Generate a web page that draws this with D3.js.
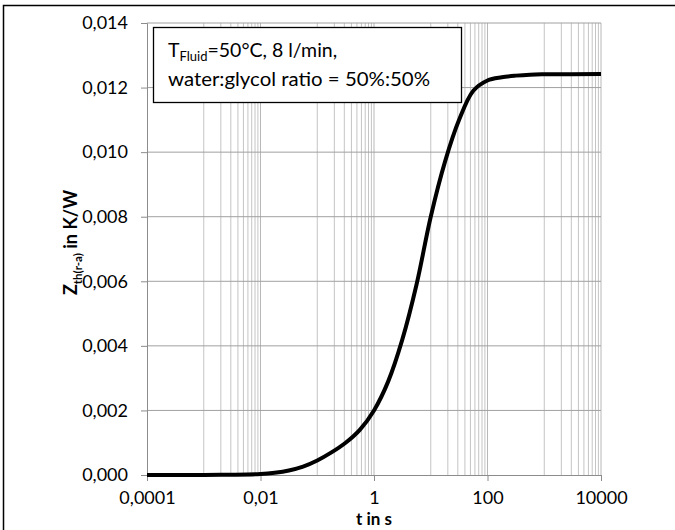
<!DOCTYPE html>
<html>
<head>
<meta charset="utf-8">
<script src="https://cdn.jsdelivr.net/npm/d3@7"></script>
<style>
  body { margin: 0; background: #fff; }
  text { font-family: Lato, "Open Sans", sans-serif; fill: #000; }
</style>
</head>
<body>
<div class="chart"></div>
<script>
// time in s, Zth in K/W
const times = [0.0001, 0.001, 0.003, 0.01, 0.0178, 0.0316, 0.0562, 0.1, 0.178, 0.316, 0.562, 1, 1.78, 3.16, 5.62, 10, 17.8, 31.6, 56.2, 100, 178, 316, 562, 1000, 10000]
const zth = [0, 0.000003, 0.000008, 0.00003, 0.00007, 0.00014, 0.00026, 0.00045, 0.0007, 0.001, 0.0014, 0.0020, 0.0029, 0.0042, 0.0059, 0.0080, 0.0097, 0.0110, 0.0119, 0.01222, 0.01232, 0.01237, 0.0124, 0.01241, 0.01242]

const xTicks = [0.0001, 0.01, 1, 100, 10000]
const xTickLabels = ["0,0001", "0,01", "1", "100", "10000"]
const yTicks = [0, 0.002, 0.004, 0.006, 0.008, 0.010, 0.012, 0.014]

const margin = { top: 23, right: 74, bottom: 55, left: 147 }
const width = 675 - margin.left - margin.right
const height = 530 - margin.top - margin.bottom

const root = d3.select(".chart")
  .append("svg")
  .attr("width", 675)
  .attr("height", 530)

// outer frame
root.append("rect")
  .attr("x", 3.5).attr("y", 5.5)
  .attr("width", 700).attr("height", 600)
  .attr("fill", "none").attr("stroke", "#000").attr("stroke-width", 1.5)

const svg = root.append("g")
  .attr("transform", "translate(" + margin.left + "," + margin.top + ")")

const xScale = d3.scaleLog()
  .domain([0.0001, 10000])
  .range([0, width])

const yScale = d3.scaleLinear()
  .domain([0, 0.014])
  .range([height, 0])

// minor grid: 1..9 x 10^(odd exponent) between the labelled decades
const minor = []
xTicks.slice(0, -1).forEach(t => {
  for (let m = 1; m <= 9; m++) minor.push(m * t * 10)
})

svg.append("g")
  .selectAll("line")
  .data(minor)
  .join("line")
  .attr("x1", d => xScale(d)).attr("x2", d => xScale(d))
  .attr("y1", 0).attr("y2", height)
  .attr("stroke", "#c4c4c4")

svg.append("g")
  .selectAll("line")
  .data(xTicks.slice(1))
  .join("line")
  .attr("x1", d => xScale(d)).attr("x2", d => xScale(d))
  .attr("y1", 0).attr("y2", height)
  .attr("stroke", "#b8b8b8")

svg.append("g")
  .selectAll("line")
  .data(yTicks.slice(1))
  .join("line")
  .attr("x1", 0).attr("x2", width)
  .attr("y1", d => yScale(d)).attr("y2", d => yScale(d))
  .attr("stroke", "#a0a0a0")

const xAxis = d3.axisBottom(xScale)
  .tickValues(xTicks)
  .tickSize(6)
  .tickPadding(9)
  .tickFormat((d, i) => xTickLabels[i])

const yAxis = d3.axisLeft(yScale)
  .tickValues(yTicks)
  .tickSize(6)
  .tickPadding(13)
  .tickFormat(d => d3.format(".3f")(d).replace(".", ","))

const gx = svg.append("g")
  .attr("class", "axis x-axis")
  .attr("transform", `translate(0, ${height})`)
  .call(xAxis)

const gy = svg.append("g")
  .attr("class", "axis y-axis")
  .call(yAxis)

root.selectAll(".axis path, .axis line").attr("stroke", "#8c8c8c")
root.selectAll(".axis text").style("font-size", "18px").attr("font-family", null)
gx.selectAll("text").attr("dy", "0.75em")

// curve
const line = d3.line()
  .x((d, i) => xScale(times[i]))
  .y(d => yScale(d))
  .curve(d3.curveCatmullRom.alpha(0.5))

svg.append("path")
  .datum(zth)
  .attr("d", line)
  .attr("fill", "none")
  .attr("stroke", "#000")
  .attr("stroke-width", 4)
  .attr("stroke-linejoin", "round")

// axis titles
svg.append("text")
  .attr("x", xScale(1))
  .attr("y", height + 50)
  .attr("text-anchor", "middle")
  .style("font-size", "17px")
  .style("font-weight", "bold")
  .text("t in s")

const yt = svg.append("text")
  .attr("transform", `translate(${-70}, ${yScale(0.0072)}) rotate(-90)`)
  .attr("text-anchor", "middle")
  .style("font-size", "18px")
  .style("font-weight", "bold")
yt.append("tspan").text("Z")
yt.append("tspan").attr("dy", 5).style("font-size", "11.5px").text("th(r-a)")
yt.append("tspan").attr("dy", -5).text(" in K/W")

// annotation box
const box = svg.append("g")
box.append("rect")
  .attr("x", 6.5).attr("y", 4.5)
  .attr("width", 308).attr("height", 75)
  .attr("fill", "#fff").attr("stroke", "#000").attr("stroke-width", 1.3)

const t1 = box.append("text").attr("x", 21).attr("y", 34).style("font-size", "19.5px")
t1.append("tspan").text("T")
t1.append("tspan").attr("dy", 4).style("font-size", "13px").text("Fluid")
t1.append("tspan").attr("dy", -4).text("=50°C, 8 l/min,")
box.append("text").attr("x", 21).attr("y", 63).style("font-size", "19.5px")
  .attr("textLength", 262).attr("lengthAdjust", "spacingAndGlyphs")
  .text("water:glycol ratio = 50%:50%")
</script>
</body>
</html>
